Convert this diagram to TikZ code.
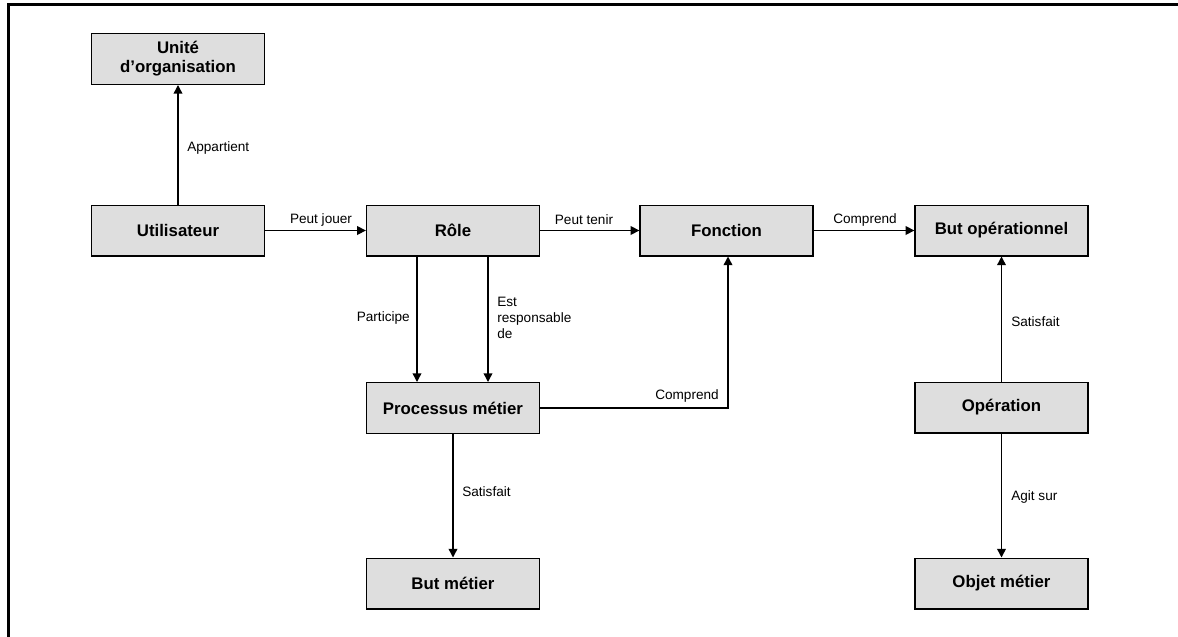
\documentclass[tikz,border=0pt]{standalone}
\usepackage{fontspec}
\setmainfont{Liberation Sans}
\usetikzlibrary{arrows.meta}
\tikzset{
  ent/.style={draw=black, line width=1pt, fill=black!13, minimum width=129.75pt, minimum height=38pt, inner sep=0pt, align=center, font=\fontsize{12.6}{14.4}\selectfont\bfseries},
  rel/.style={line width=1.1pt, -{Triangle[length=6.5pt,width=6.5pt]}},
  lab/.style={inner sep=0pt, font=\fontsize{10.2}{12.2}\selectfont, align=left},
}
\begin{document}
\begin{tikzpicture}[x=0.75pt,y=-0.75pt]
\useasboundingbox (0,0) rectangle (1178,636);
\draw[line width=2.25pt] (8.5,640) -- (8.5,4.5) -- (1180,4.5);
% entities
\node[ent] (unite) at (178,59) {Unité\\d’organisation};
\node[ent] (util) at (178,230.5) {Utilisateur};
\node[ent] (role) at (453,230.5) {Rôle};
\node[ent] (fonc) at (726.5,230.5) {Fonction};
\node[ent] (butop) at (1001.5,230.5) {But opérationnel};
\node[ent] (proc) at (453,408) {Processus métier};
\node[ent] (butm) at (453,583.5) {But métier};
\node[ent] (oper) at (1001.5,407.5) {Opération};
\node[ent] (objet) at (1001.5,583.5) {Objet métier};
% connectors
\draw[rel] (util) -- (unite);
\draw[rel] (util) -- (role);
\draw[rel] (role) -- (fonc);
\draw[rel] (fonc) -- (butop);
\draw[rel] ([xshift=-36*0.75pt]role.south) -- ([xshift=-36*0.75pt]proc.north);
\draw[rel] ([xshift=35*0.75pt]role.south) -- ([xshift=35*0.75pt]proc.north);
\draw[rel] (proc.east) -| ([xshift=1.5*0.75pt]fonc.south);
\draw[rel] (proc) -- (butm);
\draw[rel] (oper) -- (butop);
\draw[rel] (oper) -- (objet);
% labels
\node[lab, anchor=west] (l1) at (187,148) {Appartient};
\node[lab] (l2) at (321,220) {Peut jouer};
\node[lab] (l3) at (584,220) {Peut tenir};
\node[lab] (l4) at (865,220) {Comprend};
\node[lab, anchor=east] (l5) at (410,318) {Participe};
\node[lab, anchor=west] (l6) at (497,318) {Est\\responsable\\de};
\node[lab] (l7) at (687,396) {Comprend};
\node[lab, anchor=west] (l8) at (462,492) {Satisfait};
\node[lab, anchor=west] (l9) at (1011,322) {Satisfait};
\node[lab, anchor=west] (l10) at (1011,497) {Agit sur};
\end{tikzpicture}
\end{document}
